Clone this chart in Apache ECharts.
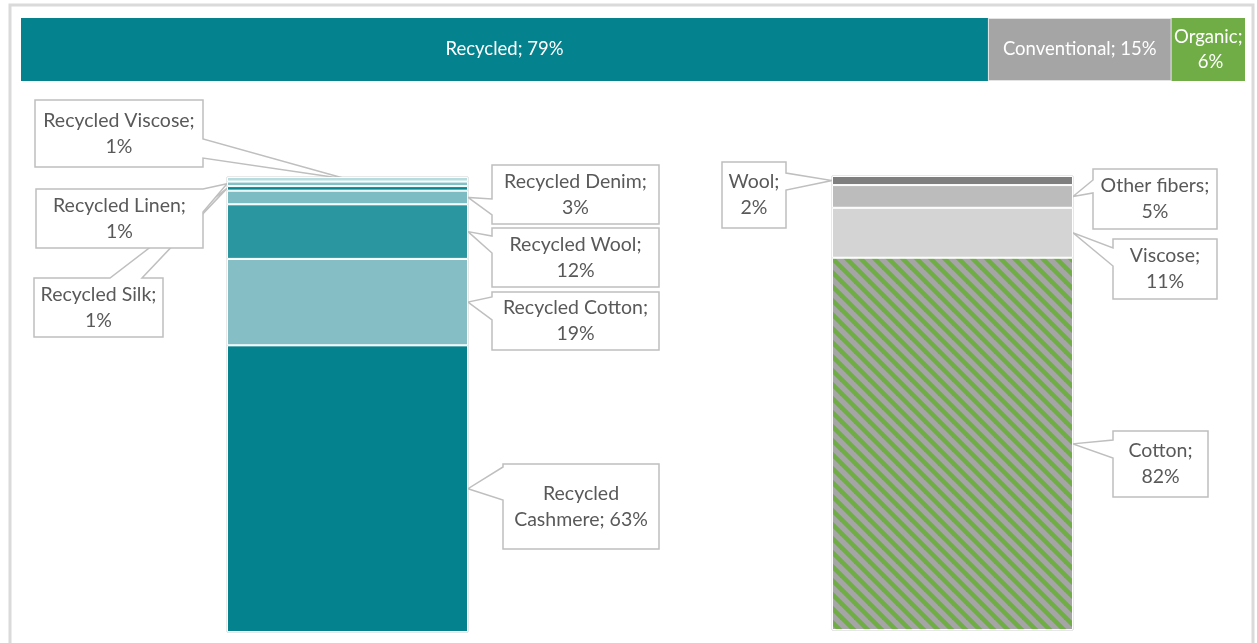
<!DOCTYPE html>
<html>
<head>
<meta charset="utf-8">
<script src="https://cdn.jsdelivr.net/npm/echarts@6/dist/echarts.min.js"></script>
<style>
  html, body { margin: 0; padding: 0; background: #fff; }
  #fiber-mix { width: 1257px; height: 643px; }
</style>
</head>
<body>
<div id="fiber-mix"></div>
<script>
// top split
var fiberTypes = ['Recycled', 'Conventional', 'Organic'];
var fiberTypeShare = [79, 15, 6];

// recycled breakdown, bottom to top
var recycledNames = ['Recycled Cashmere', 'Recycled Cotton', 'Recycled Wool', 'Recycled Denim', 'Recycled Silk', 'Recycled Linen', 'Recycled Viscose'];
var recycledShare = [63, 19, 12, 3, 1, 1, 1];

// conventional breakdown, bottom to top
var conventionalNames = ['Cotton', 'Viscose', 'Other fibers', 'Wool'];
var conventionalShare = [82, 11, 5, 2];

var FONT = 'Lato';
var topColors = ['#04838f', '#a5a5a5', '#70ad47'];
var recycledColors = ['#04838f', '#85bfc5', '#2996a0', '#7dbcc3', '#0a8791', '#84c1c7', '#b6dcdf'];

// diagonal green/grey hatch for cotton
function stripePattern() {
  var c = document.createElement('canvas');
  c.width = 14; c.height = 14;
  var ctx = c.getContext('2d');
  ctx.fillStyle = '#a5a5a5';
  ctx.fillRect(0, 0, 14, 14);
  ctx.strokeStyle = '#70ad47';
  ctx.lineWidth = 4.6;
  for (var k = -1; k <= 1; k++) {
    ctx.beginPath();
    ctx.moveTo(k * 14 - 2, -2);
    ctx.lineTo(k * 14 + 16, 16);
    ctx.stroke();
  }
  return c;
}
var conventionalColors = [{image: stripePattern(), repeat: 'repeat'}, '#d4d4d4', '#bcbcbc', '#7f7f7f'];

var grids = [
  {left: 21, top: 18, width: 1224, height: 63},
  {left: 227, top: 177, width: 241, height: 455},
  {left: 832, top: 176, width: 241, height: 454}
];

// callout boxes: [x, y, w, h], wedge side + attach offsets, where the wedge points on the bar
var recycledCallouts = [
  {box: [503, 464, 156, 85], side: 'left', at: [3, 36], tip: 'right', wrapFirst: true},
  {box: [492, 292, 167, 58], side: 'left', at: [5, 28], tip: 'right'},
  {box: [492, 228, 167, 59], side: 'left', at: [8, 25], tip: 'right'},
  {box: [492, 165, 167, 59], side: 'left', at: [34, 50], tip: 'right'},
  {box: [34, 278, 129, 59], side: 'top', at: [76, 108], tip: 'left'},
  {box: [36, 189, 167, 59], side: 'right', at: [0, 23], tip: 'left'},
  {box: [35, 100, 168, 67], side: 'right', at: [39, 58], tip: 'center'}
];
var conventionalCallouts = [
  {box: [1113, 431, 95, 66], side: 'left', at: [9, 27], tip: 'right'},
  {box: [1113, 239, 104, 60], side: 'left', at: [9, 27], tip: 'right'},
  {box: [1093, 169, 124, 60], side: 'left', at: [11, 24], tip: 'right'},
  {box: [722, 162, 64, 66], side: 'right', at: [11, 28], tip: 'left'}
];

var myChart = echarts.init(document.getElementById('fiber-mix'));

var series = [];
fiberTypes.forEach(function (name, i) {
  var w = grids[0].width * fiberTypeShare[i] / 100;
  series.push({
    name: name,
    type: 'bar',
    stack: 'top',
    xAxisIndex: 0,
    yAxisIndex: 0,
    barWidth: '100%',
    data: [fiberTypeShare[i]],
    itemStyle: {
      color: topColors[i],
      borderColor: i === 1 ? '#e3e3e3' : topColors[i],
      borderWidth: i === 1 ? 1 : 0
    },
    label: {
      show: true,
      position: 'inside',
      color: '#fff',
      fontFamily: FONT,
      fontSize: 18.5,
      lineHeight: 25,
      width: w,
      overflow: 'break',
      formatter: name + '; ' + fiberTypeShare[i] + '%'
    }
  });
});

function calloutSeries(names, values, colors, callouts, g, stack) {
  names.forEach(function (name, i) {
    var c = callouts[i];
    var text = c.wrapFirst
      ? name.replace(' ', '\n') + '; ' + values[i] + '%'
      : name + ';\n' + values[i] + '%';
    series.push({
      name: name,
      type: 'bar',
      stack: stack,
      xAxisIndex: g,
      yAxisIndex: g,
      barWidth: '100%',
      data: [values[i]],
      itemStyle: {color: colors[i], borderColor: '#fff', borderWidth: 1},
      label: {
        show: true,
        position: 'inside',
        color: '#595959',
        fontFamily: FONT,
        fontSize: 19.5,
        lineHeight: 26,
        align: 'center',
        verticalAlign: 'middle',
        formatter: text
      },
      labelLayout: {
        x: c.box[0] + c.box[2] / 2,
        y: c.box[1] + c.box[3] / 2,
        align: 'center',
        verticalAlign: 'middle'
      }
    });
  });
}
calloutSeries(recycledNames, recycledShare, recycledColors, recycledCallouts, 1, 'rec');
calloutSeries(conventionalNames, conventionalShare, conventionalColors, conventionalCallouts, 2, 'conv');

var option = {
  backgroundColor: '#fff',
  animation: false,
  grid: grids.map(function (g, i) {
    return {
      left: g.left, top: g.top, width: g.width, height: g.height,
      show: i > 0, borderColor: '#d0d0d0', borderWidth: 1, backgroundColor: 'transparent'
    };
  }),
  xAxis: [
    {gridIndex: 0, type: 'value', min: 0, max: 100, show: false},
    {gridIndex: 1, type: 'category', data: ['Recycled'], show: false},
    {gridIndex: 2, type: 'category', data: ['Conventional'], show: false}
  ],
  yAxis: [
    {gridIndex: 0, type: 'category', data: ['All'], show: false},
    {gridIndex: 1, type: 'value', min: 0, max: 100, show: false},
    {gridIndex: 2, type: 'value', min: 0, max: 100, show: false}
  ],
  series: series
};
myChart.setOption(option);

// callout boxes with a wedge pointing at the middle of each segment
function calloutShape(c, tip) {
  var x = c.box[0], y = c.box[1], w = c.box[2], h = c.box[3];
  var a = c.at[0], b = c.at[1];
  var TL = [x, y], TR = [x + w, y], BR = [x + w, y + h], BL = [x, y + h];
  if (c.side === 'top') return [TL, [x + a, y], tip, [x + b, y], TR, BR, BL];
  if (c.side === 'right') return [TL, TR, [x + w, y + a], tip, [x + w, y + b], BR, BL];
  if (c.side === 'bottom') return [TL, TR, BR, [x + b, y + h], tip, [x + a, y + h], BL];
  return [TL, TR, BR, BL, [x, y + b], tip, [x, y + a]];
}

var graphics = [{
  type: 'rect',
  shape: {x: 10, y: 5, width: 1243, height: 680},
  style: {fill: 'none', stroke: '#dadada', lineWidth: 3},
  z: 0
}];

function addCallouts(values, callouts, g, cat) {
  var cum = 0;
  values.forEach(function (v, i) {
    var mid = cum + v / 2;
    cum += v;
    var p = myChart.convertToPixel({gridIndex: g}, [cat, mid]);
    var c = callouts[i];
    var tx = c.tip === 'left' ? grids[g].left : c.tip === 'right' ? grids[g].left + grids[g].width : p[0];
    graphics.push({
      type: 'polygon',
      shape: {points: calloutShape(c, [tx, p[1]])},
      style: {fill: '#fff', stroke: '#bfbfbf', lineWidth: 1.5},
      z: 1
    });
  });
}
addCallouts(recycledShare, recycledCallouts, 1, 'Recycled');
addCallouts(conventionalShare, conventionalCallouts, 2, 'Conventional');

myChart.setOption({graphic: graphics});
</script>
</body>
</html>
